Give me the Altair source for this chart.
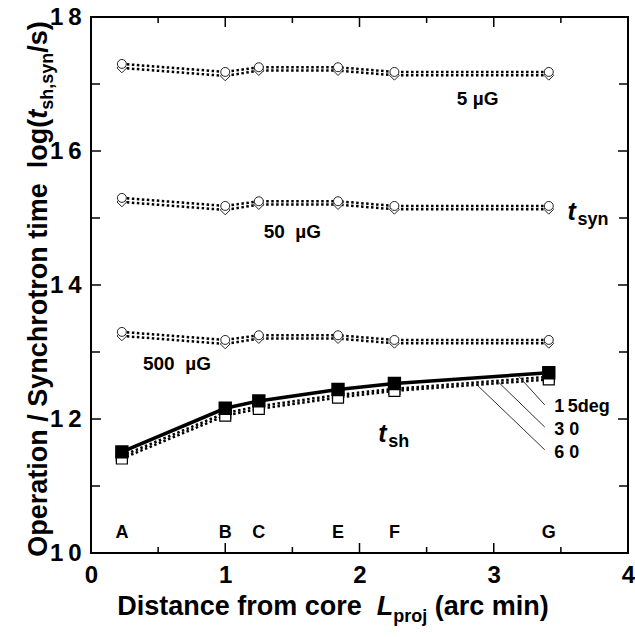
import altair as alt
import pandas as pd

# Sampling sites along the jet and their projected distance from the core (arcmin)
site = ["A", "B", "C", "E", "F", "G"]
dist = [0.23, 1.00, 1.25, 1.84, 2.26, 3.41]

# Synchrotron time log(t_syn/s): two model curves for each field strength
syn5_upper = [17.30, 17.18, 17.25, 17.25, 17.18, 17.18]
syn5_lower = [17.24, 17.12, 17.20, 17.20, 17.13, 17.13]
syn50_upper = [15.30, 15.18, 15.25, 15.25, 15.18, 15.18]
syn50_lower = [15.24, 15.12, 15.20, 15.20, 15.13, 15.13]
syn500_upper = [13.30, 13.18, 13.25, 13.25, 13.18, 13.18]
syn500_lower = [13.24, 13.12, 13.20, 13.20, 13.13, 13.13]

# Operation time log(t_sh/s) for three viewing angles
tsh_15 = [11.51, 12.16, 12.27, 12.44, 12.53, 12.69]
tsh_30 = [11.45, 12.09, 12.19, 12.36, 12.45, 12.63]
tsh_60 = [11.41, 12.05, 12.15, 12.32, 12.42, 12.59]

NB = "\u00a0"   # non-breaking space, kept inside strings by the SVG text renderer
THIN = "\u2009"

# Curve annotations
field_text = ["5" + NB + "µG", "50" + NB + NB + "µG", "500" + NB + NB + "µG"]
field_x = [2.88, 1.50, 0.64]
field_y = [16.78, 14.79, 12.82]

angle_text = ["1" + THIN + "5deg", "3" + NB + "0", "6" + NB + "0"]
angle_x = [3.45, 3.45, 3.45]
angle_y = [12.18, 11.84, 11.49]
leader_x1 = [3.18, 3.03, 2.88]
leader_y1 = [12.65, 12.56, 12.50]
leader_x2 = [3.38, 3.38, 3.38]
leader_y2 = [12.21, 11.88, 11.54]

# Axis ticks
x_major = [0, 1, 2, 3, 4]
x_minor = [0.5, 1.5, 2.5, 3.5]
y_major = [10, 12, 14, 16, 18]
y_minor = [11, 13, 15, 17]

W, H = 537, 536
FONT = "Liberation Sans"

xscale = alt.Scale(domain=[0, 4], nice=False, zero=False)
yscale = alt.Scale(domain=[10, 18], nice=False, zero=False)

xaxis = alt.Axis(values=x_major, title=None, ticks=False, domain=False, grid=False,
                 labelFont=FONT, labelFontSize=24, labelFontWeight="bold",
                 labelColor="black", labelPadding=10, labelFlush=False, format="d")
yaxis = alt.Axis(values=y_major, title=None, ticks=False, domain=False, grid=False,
                 labelFont=FONT, labelFontSize=24, labelFontWeight="bold",
                 labelColor="black", labelPadding=10, format="d",
                 labelExpr="substring(datum.label, 0, 1) + '" + THIN + "' + substring(datum.label, 1)")


def X(field):
    return alt.X(field, type="quantitative", scale=xscale, axis=xaxis)


def Y(field):
    return alt.Y(field, type="quantitative", scale=yscale, axis=yaxis)


def series_frame(name, values):
    return pd.DataFrame({"series": name, "dist": dist, "logt": values})


upper = pd.concat([series_frame("5u", syn5_upper), series_frame("50u", syn50_upper),
                   series_frame("500u", syn500_upper)])
lower = pd.concat([series_frame("5l", syn5_lower), series_frame("50l", syn50_lower),
                   series_frame("500l", syn500_lower)])
syn_all = pd.concat([upper, lower])
open_sh = pd.concat([series_frame("30", tsh_30), series_frame("60", tsh_60)])
solid_sh = series_frame("15", tsh_15)

dotted = alt.Chart(pd.concat([syn_all, open_sh])).mark_line(
    color="black", strokeWidth=2.5, strokeDash=[2.5, 2.5]
).encode(x=X("dist"), y=Y("logt"), detail="series:N")

solid = alt.Chart(solid_sh).mark_line(color="black", strokeWidth=3.5).encode(
    x=X("dist"), y=Y("logt"))

diamonds = alt.Chart(lower).mark_point(
    shape="diamond", size=95, filled=True, fill="white", stroke="#222", strokeWidth=1, opacity=1
).encode(x=X("dist"), y=Y("logt"))

circles = alt.Chart(upper).mark_point(
    shape="circle", size=80, filled=True, fill="white", stroke="#222", strokeWidth=1, opacity=1
).encode(x=X("dist"), y=Y("logt"))

open_squares = alt.Chart(open_sh).mark_point(
    shape="square", size=120, filled=True, fill="white", stroke="black", strokeWidth=1.2, opacity=1
).encode(x=X("dist"), y=Y("logt"))

filled_squares = alt.Chart(solid_sh).mark_point(
    shape="square", size=130, filled=True, fill="black", stroke="black", opacity=1
).encode(x=X("dist"), y=Y("logt"))

# Site letters along the bottom
site_df = pd.DataFrame({"dist": dist, "logt": [10.3] * len(site), "label": site})
site_text = alt.Chart(site_df).mark_text(
    font=FONT, fontSize=18, fontWeight="bold", color="black", baseline="middle"
).encode(x=X("dist"), y=Y("logt"), text="label:N")

field_df = pd.DataFrame({"dist": field_x, "logt": field_y, "label": field_text})
field_labels = alt.Chart(field_df).mark_text(
    font=FONT, fontSize=19, fontWeight="bold", color="black", baseline="middle"
).encode(x=X("dist"), y=Y("logt"), text="label:N")

angle_df = pd.DataFrame({"dist": angle_x, "logt": angle_y, "label": angle_text})
angle_labels = alt.Chart(angle_df).mark_text(
    font=FONT, fontSize=18, fontWeight="bold", color="black", baseline="middle", align="left"
).encode(x=X("dist"), y=Y("logt"), text="label:N")

leader_df = pd.DataFrame({"dist": leader_x1, "logt": leader_y1,
                          "dist2": leader_x2, "logt2": leader_y2})
leaders = alt.Chart(leader_df).mark_rule(color="#333", strokeWidth=1).encode(
    x=X("dist"), y=Y("logt"), x2="dist2:Q", y2="logt2:Q")

# Italic t with subscripts for the two time scales
t_df = pd.DataFrame({"dist": [3.55, 2.14], "logt": [14.97, 11.66], "label": ["t", "t"]})
t_main = alt.Chart(t_df).mark_text(
    font=FONT, fontSize=25, fontWeight="bold", fontStyle="italic", color="black",
    baseline="alphabetic", align="left"
).encode(x=X("dist"), y=Y("logt"), text="label:N")
sub_df = pd.DataFrame({"dist": [3.55, 2.14], "logt": [14.97, 11.66], "label": ["syn", "sh"]})
t_sub = alt.Chart(sub_df).mark_text(
    font=FONT, fontSize=18, fontWeight="bold", color="black",
    baseline="alphabetic", align="left", dx=10, dy=5
).encode(x=X("dist"), y=Y("logt"), text="label:N")

# Inward ticks on all four sides of the frame
ymaj = pd.DataFrame({"v": y_major})
ymin = pd.DataFrame({"v": y_minor})
xmaj = pd.DataFrame({"v": x_major})
xmin = pd.DataFrame({"v": x_minor})
tick_layers = []
for df, ln in [(ymaj, 10), (ymin, 9)]:
    tick_layers.append(alt.Chart(df).mark_rule(color="black", strokeWidth=1.5).encode(
        y=Y("v"), x=alt.value(0), x2=alt.value(ln)))
    tick_layers.append(alt.Chart(df).mark_rule(color="black", strokeWidth=1.5).encode(
        y=Y("v"), x=alt.value(W), x2=alt.value(W - ln)))
for df, ln in [(xmaj, 10), (xmin, 6)]:
    tick_layers.append(alt.Chart(df).mark_rule(color="black", strokeWidth=1.5).encode(
        x=X("v"), y=alt.value(H), y2=alt.value(H - ln)))
    tick_layers.append(alt.Chart(df).mark_rule(color="black", strokeWidth=1.5).encode(
        x=X("v"), y=alt.value(0), y2=alt.value(ln)))

# Axis titles assembled from pieces so that the subscripts can be drawn
WID = {' ': 278, NB: 278, '(': 333, ')': 333, ',': 278, '/': 278, 'O': 778, 'S': 667,
       'D': 722, 'L': 611, 'a': 556, 'c': 556, 'e': 556, 'f': 333, 'g': 611, 'h': 611,
       'i': 278, 'j': 278, 'l': 278, 'm': 889, 'n': 611, 'o': 611, 'p': 611, 'r': 389,
       's': 556, 't': 333, 'y': 556}


def text_width(s, size):
    return sum(WID[c] for c in s) / 1000.0 * size


TF, SF = 27, 18
# pieces: (text, size, italic, subscript shift)
ytitle = [("Operation / Synchrotron time" + NB + NB + "log(", TF, False, 0), ("t", TF, True, 0),
          ("sh,syn", SF, False, 6), ("/s)", TF, False, 0)]
xtitle = [("Distance from core" + NB + NB, TF, False, 0), ("L", TF, True, 0),
          ("proj", SF, False, 7), (NB + "(arc min)", TF, False, 0)]


def title_layers(pieces, horizontal, center, base):
    total = sum(text_width(t, s) for t, s, _, _ in pieces)
    pos = center - total / 2.0 if horizontal else center + total / 2.0
    layers = []
    for t, s, it, shift in pieces:
        w = text_width(t, s)
        # leading blanks are trimmed by the renderer, so advance past them here
        body = t.lstrip(NB + " ")
        lead = text_width(t[:len(t) - len(body)], s)
        style = dict(font=FONT, fontSize=s, fontWeight="bold", color="black",
                     align="left", baseline="alphabetic",
                     fontStyle="italic" if it else "normal")
        if horizontal:
            enc = dict(x=alt.value(pos + lead), y=alt.value(base + shift), text=alt.value(body))
            pos += w
        else:
            style["angle"] = 270
            enc = dict(x=alt.value(base + shift), y=alt.value(pos - lead), text=alt.value(body))
            pos -= w
        layers.append(alt.Chart(pd.DataFrame({"k": [0]})).mark_text(**style).encode(**enc))
    return layers


title_parts = title_layers(xtitle, True, 242, 598) + title_layers(ytitle, False, H / 2 + 4, -44)

chart = alt.layer(
    *tick_layers, dotted, solid, diamonds, circles, open_squares, filled_squares,
    leaders, site_text, field_labels, angle_labels, t_main, t_sub, *title_parts
).properties(
    width=W, height=H,
    autosize=alt.AutoSizeParams(type="none"),
    padding={"left": 91, "top": 17, "right": 7, "bottom": 84},
    background="white",
).configure_view(stroke="black", strokeWidth=2)

chart.save("out.html", embed_options={"renderer": "svg", "actions": False})
